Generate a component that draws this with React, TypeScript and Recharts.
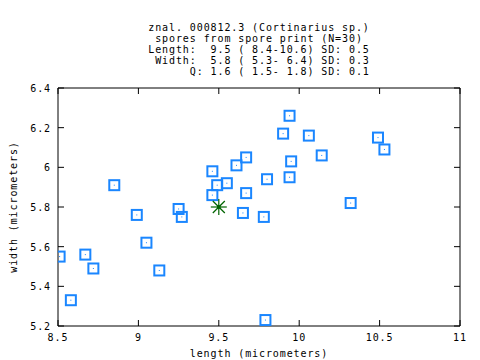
import React from "react";
import { ScatterChart, Scatter, XAxis, YAxis, ReferenceArea } from "recharts";

const lengths = [8.85, 9.46, 9.49, 9.55, 9.46, 9.61, 9.67, 9.67, 9.65, 9.25, 9.27, 8.99, 9.94, 9.90, 10.06, 10.14, 10.49, 10.53, 9.95, 9.94, 9.80, 10.32, 9.78, 8.51, 8.67, 8.72, 8.58, 9.05, 9.13, 9.79];
const widths = [5.91, 5.98, 5.91, 5.92, 5.86, 6.01, 6.05, 5.87, 5.77, 5.79, 5.75, 5.76, 6.26, 6.17, 6.16, 6.06, 6.15, 6.09, 6.03, 5.95, 5.94, 5.82, 5.75, 5.55, 5.56, 5.49, 5.33, 5.62, 5.48, 5.23];
const meanLength = [9.5];
const meanWidth = [5.8];

const xTicks = [8.5, 9, 9.5, 10, 10.5, 11];
const yTicks = [5.2, 5.4, 5.6, 5.8, 6, 6.2, 6.4];

const titleLines = [
  "znal. 000812.3 (Cortinarius sp.)",
  "spores from spore print (N=30)",
  "Length:  9.5 ( 8.4-10.6) SD: 0.5",
  " Width:  5.8 ( 5.3- 6.4) SD: 0.3",
  "      Q: 1.6 ( 1.5- 1.8) SD: 0.1",
];

const spores = lengths.map((l, i) => ({ x: l, y: widths[i] }));
const means = meanLength.map((l, i) => ({ x: l, y: meanWidth[i] }));

const FONT = "'DejaVu Sans Mono', monospace";
const FS = 10;
const LS = 0.9;
const BLUE = "#1a86ff";
const GREEN = "#006400";

// plot box (from chart margins and axis sizes)
const P = { left: 58, right: 460, top: 88, bottom: 326 };

const XTick = (p: any) => {
  const { x, payload } = p;
  return (
    <g>
      <line x1={x} x2={x} y1={P.bottom} y2={P.bottom - 6} stroke="#000" />
      <line x1={x} x2={x} y1={P.top} y2={P.top + 6} stroke="#000" />
      <text x={x} y={P.bottom + 15} textAnchor="middle" fontFamily={FONT} fontSize={FS} letterSpacing={LS} fill="#000">
        {String(payload.value)}
      </text>
    </g>
  );
};

const YTick = (p: any) => {
  const { y, payload } = p;
  return (
    <g>
      <line x1={P.left} x2={P.left + 6} y1={y} y2={y} stroke="#000" />
      <line x1={P.right} x2={P.right - 6} y1={y} y2={y} stroke="#000" />
      <text x={P.left - 7} y={y + 4} textAnchor="end" fontFamily={FONT} fontSize={FS} letterSpacing={LS} fill="#000">
        {String(payload.value)}
      </text>
    </g>
  );
};

const BoxShape = (p: any) => {
  const { cx, cy } = p;
  return (
    <g>
      <rect x={cx - 5} y={cy - 5} width={10} height={10} fill="none" stroke={BLUE} strokeWidth={2} />
      <rect x={cx - 0.5} y={cy - 0.5} width={1} height={1} fill={BLUE} />
    </g>
  );
};

const StarShape = (p: any) => {
  const { cx, cy } = p;
  const r = 8;
  const d = r * 0.75;
  return (
    <g stroke={GREEN} strokeWidth={1.2}>
      <line x1={cx - r} y1={cy} x2={cx + r} y2={cy} />
      <line x1={cx} y1={cy - r} x2={cx} y2={cy + r} />
      <line x1={cx - d} y1={cy - d} x2={cx + d} y2={cy + d} />
      <line x1={cx - d} y1={cy + d} x2={cx + d} y2={cy - d} />
      <circle cx={cx} cy={cy} r={2} fill={GREEN} stroke="none" />
    </g>
  );
};

export default function App() {
  return (
    <div style={{ position: "absolute", left: 0, top: 0, width: 480, height: 360, background: "#fff" }}>
      <ScatterChart width={480} height={360} margin={{ top: 88, right: 20, bottom: 0, left: 8 }}>
        <XAxis
          type="number" dataKey="x" domain={[8.5, 11]} ticks={xTicks} allowDataOverflow
          height={34} axisLine={false} tickLine={false} tick={<XTick />}
        />
        <YAxis
          type="number" dataKey="y" domain={[5.2, 6.4]} ticks={yTicks} allowDataOverflow
          width={50} axisLine={false} tickLine={false} tick={<YTick />}
        />
        <ReferenceArea x1={8.5} x2={11} y1={5.2} y2={6.4} fill="none" fillOpacity={0} stroke="#000" strokeWidth={1} ifOverflow="visible" />
        <Scatter data={spores} shape={BoxShape} isAnimationActive={false} />
        <Scatter data={means} shape={StarShape} isAnimationActive={false} />
      </ScatterChart>
      <svg width={480} height={360} style={{ position: "absolute", left: 0, top: 0, pointerEvents: "none" }}>
        <g fontFamily={FONT} fontSize={FS} letterSpacing={LS} fill="#000">
          {titleLines.map((t, i) => (
            <text key={i} x={259} y={31 + i * 11} textAnchor="middle" xmlSpace="preserve" style={{ whiteSpace: "pre" }}>{t}</text>
          ))}
          <text x={259} y={357} textAnchor="middle">length (micrometers)</text>
          <text x={13} y={207} textAnchor="middle" dominantBaseline="central" transform="rotate(-90 13 207)">width (micrometers)</text>
        </g>
      </svg>
    </div>
  );
}
